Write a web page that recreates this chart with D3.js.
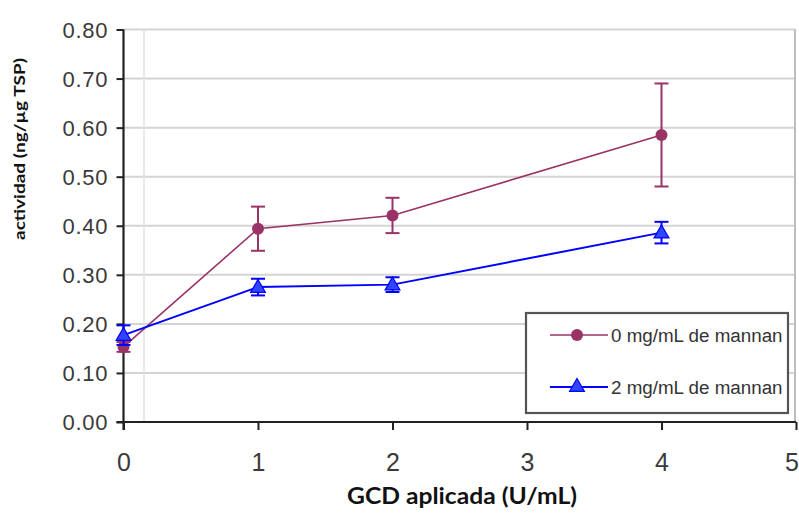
<!DOCTYPE html>
<html><head><meta charset="utf-8">
<script src="https://cdn.jsdelivr.net/npm/d3@7"></script>
<style>body{margin:0;background:#fff}svg{display:block}</style>
</head><body>
<svg id="c" width="799" height="527"></svg>
<script>
const xValues = [0, 1, 2, 4];
const series0Name = "0 mg/mL de mannan";
const series0 = [0.153, 0.394, 0.421, 0.585];
const series0Err = [0.010, 0.045, 0.036, 0.105];
const series1Name = "2 mg/mL de mannan";
const series1 = [0.177, 0.275, 0.280, 0.386];
const series1Err = [0.020, 0.017, 0.015, 0.022];
const yTicks = [0, 0.1, 0.2, 0.3, 0.4, 0.5, 0.6, 0.7, 0.8];
const xTicks = [0, 1, 2, 3, 4, 5];
const xTitle = "GCD aplicada (U/mL)";
const yTitle = "actividad (ng/µg TSP)";

const svg = d3.select("#c");
const x = d3.scaleLinear().domain([0, 5]).range([123.5, 796]);
const y = d3.scaleLinear().domain([0, 0.8]).range([422, 29.5]);
const c0 = "#993366", c1 = "#0000ff";

// gridlines
svg.append("g").selectAll("line").data(yTicks.slice(1)).join("line")
  .attr("x1", x(0)).attr("x2", x(5)).attr("y1", d => y(d)).attr("y2", d => y(d))
  .attr("stroke", "#d4d4d4").attr("stroke-width", 2);
svg.append("line").attr("x1", 144).attr("x2", 144).attr("y1", y(0.8)).attr("y2", y(0))
  .attr("stroke", "#e2e2e2").attr("stroke-width", 1.5);
svg.append("line").attr("x1", x(5) - 1).attr("x2", x(5) - 1).attr("y1", y(0.8)).attr("y2", y(0))
  .attr("stroke", "#bdbdbd").attr("stroke-width", 2);

// axes
const yAxis = svg.append("g").attr("transform", `translate(${x(0)},0)`)
  .call(d3.axisLeft(y).tickValues(yTicks).tickFormat(d3.format(".2f")).tickSize(7).tickPadding(9));
const xAxis = svg.append("g").attr("transform", `translate(0,${y(0)})`)
  .call(d3.axisBottom(x).tickValues(xTicks).tickFormat(d3.format("d")).tickSize(8).tickPadding(23));
[yAxis, xAxis].forEach(a => {
  a.select(".domain").attr("stroke", "#222").attr("stroke-width", 2.2);
  a.selectAll(".tick line").attr("stroke", "#222").attr("stroke-width", 2);
});
yAxis.select(".domain").attr("d", `M0,${y(0.8)}V${y(0) + 8}`);
xAxis.select(".domain").attr("d", `M${x(0) - 7},0H${x(5)}`);
yAxis.selectAll(".tick text")
  .attr("font-family", "'Liberation Sans Narrow','Arial Narrow',sans-serif")
  .attr("font-size", 22).attr("fill", "#3a3a3a")
  .attr("textLength", 45).attr("lengthAdjust", "spacing").attr("dy", "0.35em");
xAxis.selectAll(".tick text")
  .attr("font-family", "'Liberation Sans Narrow','Arial Narrow',sans-serif")
  .attr("font-size", 25).attr("fill", "#3a3a3a");
xAxis.selectAll(".tick").filter(d => d === 5).select("text").style("text-anchor", "end").attr("dx", "0.1em");

// titles
svg.append("text").text(xTitle).attr("x", 462).attr("y", 504)
  .attr("text-anchor", "middle").attr("font-family", "Lato, 'Open Sans', sans-serif")
  .attr("font-weight", "bold").attr("font-size", 22).attr("fill", "#111")
  .attr("textLength", 230).attr("lengthAdjust", "spacingAndGlyphs");
svg.append("text").text(yTitle)
  .attr("transform", "translate(25,149) rotate(-90)")
  .attr("text-anchor", "middle").attr("font-family", "Lato, 'Open Sans', sans-serif")
  .attr("font-weight", "bold").attr("font-size", 15).attr("fill", "#111")
  .attr("textLength", 182).attr("lengthAdjust", "spacingAndGlyphs");

const line = d3.line().x((d, i) => x(xValues[i])).y(d => y(d));
const tri = d3.symbol().type(d3.symbolTriangle).size(95);

function drawSeries(vals, errs, color, lw, marker) {
  const g = svg.append("g");
  g.append("path").datum(vals).attr("d", line).attr("fill", "none")
    .attr("stroke", color).attr("stroke-width", lw);
  const eb = g.selectAll(".eb").data(vals).join("g");
  eb.append("line").attr("x1", (d, i) => x(xValues[i])).attr("x2", (d, i) => x(xValues[i]))
    .attr("y1", (d, i) => y(d - errs[i])).attr("y2", (d, i) => y(d + errs[i]))
    .attr("stroke", color).attr("stroke-width", 2);
  [1, -1].forEach(s => {
    eb.append("line").attr("x1", (d, i) => x(xValues[i]) - 7).attr("x2", (d, i) => x(xValues[i]) + 7)
      .attr("y1", (d, i) => y(d + s * errs[i])).attr("y2", (d, i) => y(d + s * errs[i]))
      .attr("stroke", color).attr("stroke-width", 2);
  });
  if (marker === "circle") {
    g.selectAll("circle").data(vals).join("circle")
      .attr("cx", (d, i) => x(xValues[i])).attr("cy", d => y(d)).attr("r", 6).attr("fill", color);
  } else {
    g.selectAll(".m").data(vals).join("path")
      .attr("d", tri).attr("transform", (d, i) => `translate(${x(xValues[i])},${y(d) + 1})`)
      .attr("fill", "#2f45ff").attr("stroke", color).attr("stroke-width", 1.2);
  }
}
drawSeries(series0, series0Err, c0, 1.6, "circle");
drawSeries(series1, series1Err, c1, 2, "tri");

// legend
const lg = svg.append("g");
lg.append("rect").attr("x", 526).attr("y", 313).attr("width", 262).attr("height", 100)
  .attr("fill", "#fff").attr("stroke", "#555").attr("stroke-width", 2.2);
const items = [[series0Name, c0, "circle", 335], [series1Name, c1, "tri", 387]];
items.forEach(([name, col, mk, cy]) => {
  lg.append("line").attr("x1", 550).attr("x2", 608).attr("y1", cy).attr("y2", cy)
    .attr("stroke", col).attr("stroke-width", mk === "circle" ? 1.6 : 2);
  if (mk === "circle") lg.append("circle").attr("cx", 577).attr("cy", cy).attr("r", 6).attr("fill", col);
  else lg.append("path").attr("d", tri).attr("transform", `translate(577,${cy})`)
    .attr("fill", "#2f45ff").attr("stroke", col).attr("stroke-width", 1.2);
  lg.append("text").text(name).attr("x", 611).attr("y", cy + 7)
    .attr("font-family", "'Liberation Sans Narrow','Arial Narrow',sans-serif")
    .attr("font-size", 18.8).attr("fill", "#333");
});
</script>
</body></html>
